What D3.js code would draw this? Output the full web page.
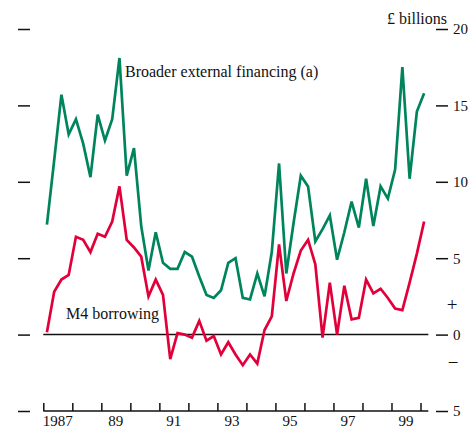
<!DOCTYPE html>
<html>
<head>
<meta charset="utf-8">
<script src="https://cdn.jsdelivr.net/npm/d3@7"></script>
<style>
body { margin: 0; background: #fff; }
text { font-family: "Liberation Serif", "DejaVu Serif", serif; fill: #111; }
</style>
</head>
<body>
<script>
// quarterly, 1987 Q1 to 2000 Q1, £ billions
const broader = [7.2, 11.4, 15.7, 13.1, 14.1, 12.5, 10.3, 14.4, 12.7, 14.1,
  18.1, 10.4, 12.2, 7.1, 4.2, 6.7, 4.7, 4.3, 4.3, 5.4,
  5.1, 3.8, 2.6, 2.4, 2.9, 4.7, 5.0, 2.4, 2.3, 4.0,
  2.5, 5.4, 11.2, 4.0, 7.3, 10.4, 9.7, 6.1, 6.9, 7.8,
  4.9, 6.7, 8.7, 7.0, 10.2, 7.1, 9.7, 8.9, 10.8, 17.5,
  10.2, 14.6, 15.8];
const m4 = [0.15, 2.8, 3.6, 3.9, 6.4, 6.2, 5.4, 6.6, 6.4, 7.4,
  9.7, 6.2, 5.7, 5.1, 2.5, 3.6, 2.6, -1.6, 0.1, 0.0,
  -0.2, 0.9, -0.4, -0.1, -1.3, -0.5, -1.3, -2.0, -1.3, -1.9,
  0.3, 1.2, 5.9, 2.2, 4.0, 5.5, 6.2, 4.6, -0.2, 3.4,
  0.0, 3.2, 1.0, 1.1, 3.6, 2.7, 3.0, 2.4, 1.7, 1.6,
  3.4, 5.3, 7.4];
const quarters = d3.range(broader.length).map(i => 1987 + (i + 0.5) / 4);
const yTicks = [-5, 0, 5, 10, 15, 20];
const yearTicks = d3.range(1987, 2001);
const yearLabels = [[1987, '1987'], [1989, '89'], [1991, '91'], [1993, '93'], [1995, '95'], [1997, '97'], [1999, '99']];

const width = 471, height = 428;
const svg = d3.select('body').append('svg').attr('width', width).attr('height', height);

const x = d3.scaleLinear().domain([1987, 2000]).range([43.3, 420.5]);
const y = d3.scaleLinear().domain([-5, 20]).range([411, 29]);

// left tick marks
svg.append('g').attr('transform', 'translate(18,0)')
   .call(d3.axisRight(y).tickValues(yTicks).tickSize(12).tickFormat(''))
   .call(g => g.select('.domain').remove());

// right axis
const right = svg.append('g').attr('transform', 'translate(436,0)')
   .call(d3.axisRight(y).tickValues(yTicks).tickSize(12).tickPadding(5).tickFormat(d => Math.abs(d)))
   .call(g => g.select('.domain').remove());
right.selectAll('text').style('font-size', '15px').attr('dy', '0.33em');
svg.selectAll('.tick line').attr('stroke', '#111').attr('stroke-width', 1.5);

svg.append('text').attr('x', 447).attr('y', 24).attr('text-anchor', 'end')
   .style('font-size', '16px').text('£ billions');
svg.append('text').attr('x', 452).attr('y', y(2)).attr('text-anchor', 'middle')
   .attr('dy', '0.35em').style('font-size', '19px').text('+');
svg.append('text').attr('x', 453).attr('y', y(-1.8)).attr('text-anchor', 'middle')
   .attr('dy', '0.35em').style('font-size', '19px').text('−');

// bottom axis: ticks point up, labels between ticks
const bottom = svg.append('g').attr('transform', `translate(0,${y(-5)})`)
   .call(d3.axisBottom(x).tickValues(yearTicks).tickSizeInner(-8).tickSizeOuter(0).tickFormat(''));
bottom.select('.domain').attr('d', `M${x(1987)},0H${x(2000.27)}`).attr('stroke', '#111').attr('stroke-width', 1.5);
bottom.selectAll('.tick line').attr('stroke', '#111').attr('stroke-width', 1.5);
svg.selectAll('.yearlab').data(yearLabels).join('text')
   .attr('class', 'yearlab')
   .attr('x', d => x(d[0] + 0.5)).attr('y', 426)
   .attr('text-anchor', 'middle').style('font-size', '15px').text(d => d[1]);

// zero line
svg.append('line').attr('x1', x(1987)).attr('x2', x(2000.27)).attr('y1', y(0)).attr('y2', y(0))
   .attr('stroke', '#111').attr('stroke-width', 1.5);

const line = d3.line().x((d, i) => x(quarters[i])).y(d => y(d));
svg.append('path').datum(broader).attr('d', line)
   .attr('fill', 'none').attr('stroke', '#00845c').attr('stroke-width', 2.7);
svg.append('path').datum(m4).attr('d', line)
   .attr('fill', 'none').attr('stroke', '#e2003a').attr('stroke-width', 2.7);

svg.append('text').attr('x', 125).attr('y', 77).style('font-size', '16px')
   .text('Broader external financing (a)');
svg.append('text').attr('x', 66).attr('y', 319).style('font-size', '16px')
   .text('M4 borrowing');
</script>
</body>
</html>
